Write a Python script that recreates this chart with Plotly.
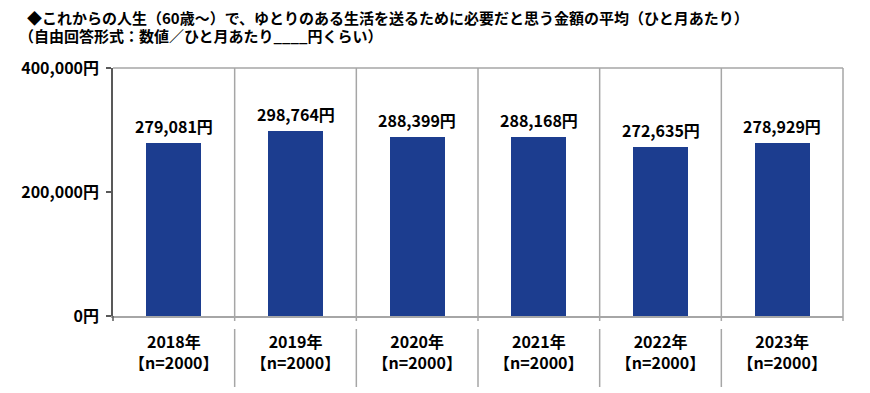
import plotly.graph_objects as go

years = ["2018年", "2019年", "2020年", "2021年", "2022年", "2023年"]
sample_sizes = ["【n=2000】"] * 6
values = [279081, 298764, 288399, 288168, 272635, 278929]
y_ticks = [0, 200000, 400000]
y_tick_labels = ["0円", "200,000円", "400,000円"]
title_line1 = "◆これからの人生（60歳～）で、ゆとりのある生活を送るために必要だと思う金額の平均（ひと月あたり）"
title_line2 = "（自由回答形式：数値／ひと月あたり____円くらい）"

FONT = "Noto Sans CJK JP"
BAR = "#1C3D8F"
GRID = "#A6A6A6"
AXIS = "#595959"

# page body has an 8px margin; work in reference coordinates and shift
OFF = 8
W, H = 870 - OFF, 393 - OFF
PLOT_L, PLOT_R, PLOT_T, PLOT_B = 113, 843, 68, 316
L, R, T, B = PLOT_L - OFF, 870 - PLOT_R, PLOT_T - OFF, 393 - PLOT_B
plot_h = PLOT_B - PLOT_T
plot_w = PLOT_R - PLOT_L

def py(px):
    return (PLOT_B - px) / plot_h

def px_x(px):
    return (px - PLOT_L) / plot_w

n = len(years)
xpos = list(range(n))
ticktext = [f"<b>{y}</b><br><b>{s}</b>" for y, s in zip(years, sample_sizes)]

fig = go.Figure()
fig.add_trace(go.Bar(
    x=xpos, y=values, width=0.45, marker=dict(color=BAR, line=dict(width=0)),
    hoverinfo="skip",
))

annotations = []
for x, v in zip(xpos, values):
    annotations.append(dict(
        x=x, y=v, xref="x", yref="y", text=f"<b>{v:,}円</b>",
        showarrow=False, yanchor="bottom", yshift=3,
        font=dict(family=FONT, size=16, color="#000000"),
    ))
annotations.append(dict(
    x=px_x(26), y=py(18), xref="paper", yref="paper", xanchor="left", yanchor="middle",
    text=f"<b>{title_line1}</b>", showarrow=False, borderpad=0,
    font=dict(family=FONT, size=15, color="#000000"),
))
annotations.append(dict(
    x=px_x(18), y=py(36), xref="paper", yref="paper", xanchor="left", yanchor="middle",
    text=f"<b>{title_line2}</b>", showarrow=False, borderpad=0,
    font=dict(family=FONT, size=15, color="#000000"),
))

shapes = []
shapes.append(dict(type="line", xref="paper", yref="paper", x0=0, x1=1, y0=1, y1=1,
                   line=dict(color=GRID, width=1.5)))
shapes.append(dict(type="line", xref="paper", yref="paper", x0=1, x1=1, y0=py(321), y1=1,
                   line=dict(color=GRID, width=1.5)))
for i in range(n - 1):
    xb = i + 0.5
    shapes.append(dict(type="line", xref="x", yref="paper", x0=xb, x1=xb, y0=py(321), y1=1,
                       line=dict(color=GRID, width=1.5)))
    shapes.append(dict(type="line", xref="x", yref="paper", x0=xb, x1=xb, y0=py(387), y1=py(329),
                       line=dict(color=GRID, width=1.5)))
shapes.append(dict(type="line", xref="paper", yref="paper", x0=0, x1=0, y0=py(321), y1=0,
                   line=dict(color=AXIS, width=1.5)))

fig.update_layout(
    width=W, height=H,
    margin=dict(l=L, r=R, t=T, b=B, autoexpand=False),
    paper_bgcolor="white", plot_bgcolor="white",
    showlegend=False,
    annotations=annotations,
    shapes=shapes,
    bargap=0,
    xaxis=dict(
        range=[-0.5, n - 0.5], tickvals=xpos, ticktext=ticktext,
        showgrid=False, zeroline=False, showline=True, linecolor=GRID, linewidth=1.5,
        ticks="", ticklabelstandoff=11, automargin=False,
        tickfont=dict(family=FONT, size=16, color="#000000"),
    ),
    yaxis=dict(
        range=[0, 400000], tickvals=y_ticks, ticktext=[f"<b>{t}</b>" for t in y_tick_labels],
        showgrid=False, zeroline=False, showline=True, linecolor=AXIS, linewidth=1.5,
        ticks="outside", ticklen=5, tickcolor=AXIS, tickwidth=1.5,
        ticklabelstandoff=4, automargin=False,
        tickfont=dict(family=FONT, size=16, color="#000000"),
    ),
)

fig.write_html("out.html")
